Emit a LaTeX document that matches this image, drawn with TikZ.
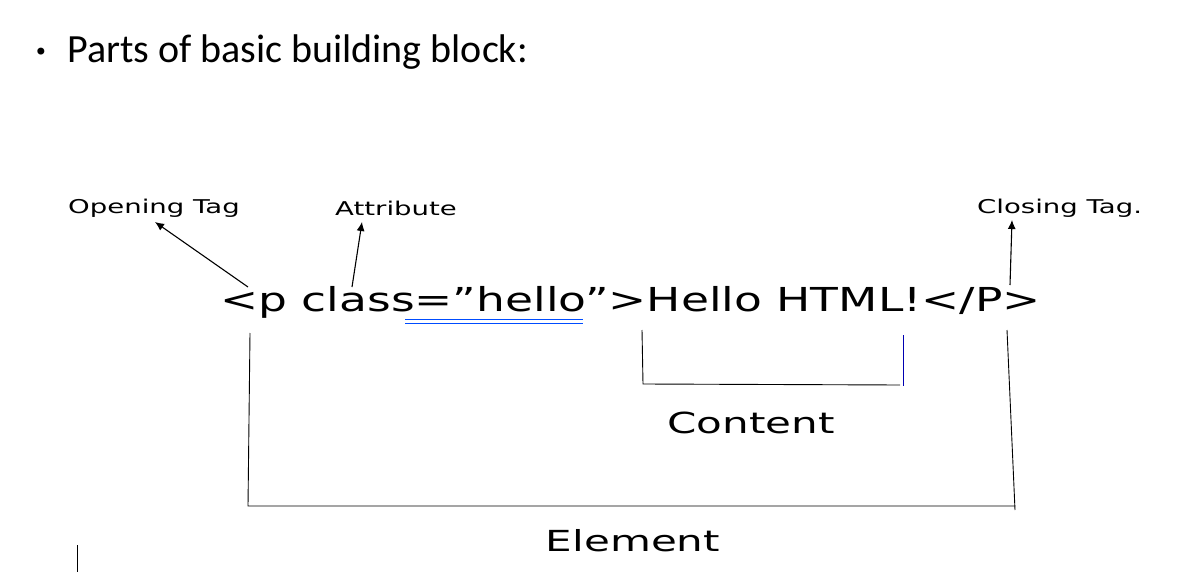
\documentclass[tikz,border=0pt]{standalone}
\usepackage{fontspec}
\usepackage{graphicx}
\setmainfont{DejaVu Sans}
\newfontfamily\carlitofam{Carlito}
\usetikzlibrary{arrows.meta}
\begin{document}
\begin{tikzpicture}[x=1pt,y=-1pt,
  lbl/.style={inner sep=0pt,font=\fontsize{19}{22}\selectfont},
  big/.style={inner sep=0pt,font=\fontsize{29}{34}\selectfont},
  arr/.style={draw=black,line width=1.1pt,-{Latex[length=9pt,width=8pt]}},
  ln/.style={draw=black,line width=0.9pt}]
\useasboundingbox[fill=white] (0,0) rectangle (1188,588);
\node[anchor=center,inner sep=0pt,font=\fontsize{24}{28}\selectfont] (bullet) at (41,54) {•};
\node[anchor=west,inner sep=0pt,font=\carlitofam\fontsize{40}{46}\selectfont] (title) at (67,52) {Parts of basic building block:};
\node[lbl,anchor=west] (open) at (68,208) {\scalebox{1.45}[1]{Opening Tag}};
\node[lbl,anchor=west] (attr) at (335,208) {\scalebox{1.45}[1]{Attribute}};
\node[lbl,anchor=west] (close) at (977,208) {\scalebox{1.45}[1]{Closing Tag.}};
\node[anchor=west,inner sep=0pt,font=\fontsize{33}{38}\selectfont] (code) at (220,302) {\scalebox{1.38}[1]{<p class=”hello”>Hello HTML!</P>}};
\coordinate (a1) at (248,287); \coordinate (a1e) at (155,222);
\coordinate (a2) at (352,287); \coordinate (a2e) at (362,222);
\coordinate (a3) at (1010,285); \coordinate (a3e) at (1012,220);
\draw[arr] (a1) -- (a1e);
\draw[arr] (a2) -- (a2e);
\draw[arr] (a3) -- (a3e);
\coordinate (u1) at (405,319); \coordinate (u2) at (583,319);
\coordinate (u3) at (405,323); \coordinate (u4) at (583,323);
\draw[blue!70!cyan,line width=0.8pt] (u1) -- (u2) (u3) -- (u4);
\coordinate (e1) at (250,333); \coordinate (e2) at (248,506);
\coordinate (e3) at (1015,506); \coordinate (e4) at (1007,330); \coordinate (e5) at (1015,510);
\draw[ln] (e1) -- (e2) -- (e3);
\draw[ln] (e4) -- (e5);
\coordinate (c1) at (642,330); \coordinate (c2) at (643,384); \coordinate (c3) at (900,385);
\draw[ln] (c1) -- (c2) -- (c3);
\coordinate (c4) at (903,335); \coordinate (c5) at (903,386);
\draw[blue!70!black,line width=0.9pt] (c4) -- (c5);
\node[big] (content) at (751,423) {\scalebox{1.45}[1]{Content}};
\node[big] (element) at (633,541) {\scalebox{1.45}[1]{Element}};
\coordinate (k1) at (77,545); \coordinate (k2) at (77,572);
\draw[line width=0.9pt] (k1) -- (k2);
\end{tikzpicture}
\end{document}
